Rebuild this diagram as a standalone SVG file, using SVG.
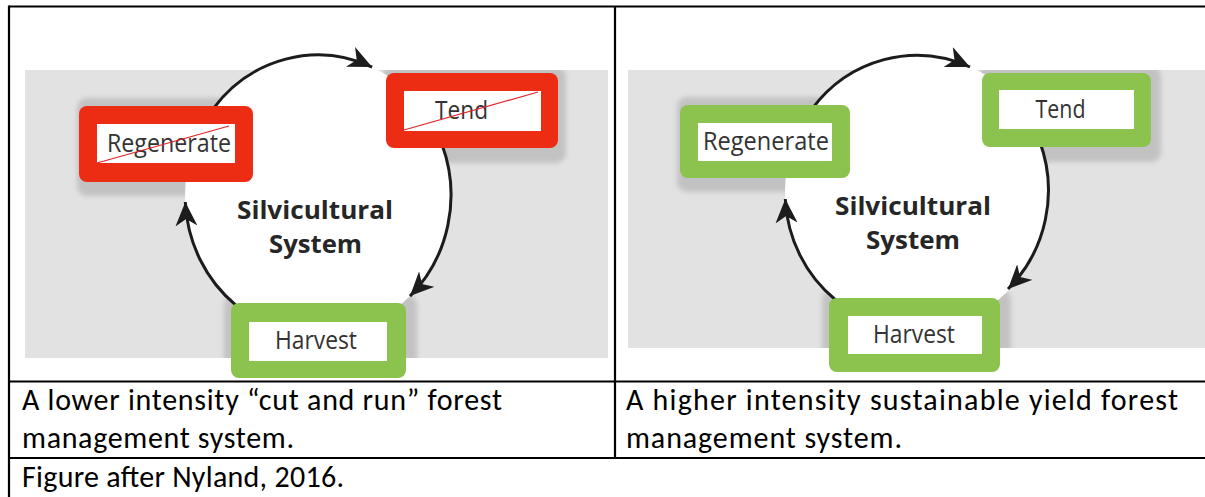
<svg xmlns="http://www.w3.org/2000/svg" width="1205" height="497" viewBox="0 0 1205 497">
<style>
.band{fill:#e2e2e2}
.shadow{fill:#c2c2c2;filter:url(#blur)}
.red{fill:#ec2d13}
.green{fill:#8cc34f}
.inner{fill:#ffffff}
.lbl{font-family:"Open Sans","Noto Sans",sans-serif;font-size:25px;font-weight:500;fill:#333333;text-anchor:middle}
.ctr{font-family:"Open Sans","Noto Sans",sans-serif;font-size:24.5px;font-weight:bold;fill:#262626;text-anchor:middle}
.arc{fill:none;stroke:#1c1c1c;stroke-width:3;marker-end:url(#ah)}
.strike{stroke:#e0242a;stroke-width:1.2}
.grid{stroke:#000;stroke-width:2.2;fill:none}
.cap{font-family:Carlito,Lato,"Liberation Sans",sans-serif;font-size:30px;fill:#000}
</style>
<defs>
<filter id="blur" x="-20%" y="-20%" width="140%" height="140%"><feGaussianBlur stdDeviation="2.5"/></filter>
<marker id="ah" markerUnits="userSpaceOnUse" markerWidth="26" markerHeight="22" refX="24" refY="11" orient="auto" viewBox="0 0 26 22"><path d="M0,0 L24,11 L0,22 L7,11 Z" fill="#1c1c1c"/></marker>
<clipPath id="clipL"><rect x="25" y="70" width="583" height="288"/></clipPath>
<clipPath id="clipR"><rect x="628" y="70" width="577" height="278"/></clipPath>
</defs>
<rect width="1205" height="497" fill="#ffffff"/>

<!-- left panel background -->
<rect class="band" x="25" y="70" width="583" height="288"/>
<g clip-path="url(#clipL)">
<rect class="shadow" x="77" y="98" width="186" height="98" rx="10"/>
<rect class="shadow" x="382" y="66" width="184" height="97" rx="10"/>
<rect class="shadow" x="224" y="295" width="193" height="97" rx="10"/>
</g>
<ellipse cx="318" cy="195" rx="133" ry="140" fill="#ffffff"/>

<!-- right panel background -->
<rect class="band" x="628" y="70" width="577" height="278"/>
<g clip-path="url(#clipR)">
<rect class="shadow" x="677" y="97" width="183" height="95" rx="10"/>
<rect class="shadow" x="978" y="66" width="183" height="96" rx="10"/>
<rect class="shadow" x="822" y="290" width="189" height="96" rx="10"/>
</g>
<ellipse cx="917" cy="192" rx="132" ry="137" fill="#ffffff"/>

<g id="connectors">
<path class="arc" d="M213,109 A133,140 0 0 1 372.1,67.1"/>
<path class="arc" d="M442,144.4 A133,140 0 0 1 410,296.1"/>
<path class="arc" d="M236.1,305.3 A133,140 0 0 1 185.3,202"/>
<path class="arc" d="M812,109 A132,137 0 0 1 970,67"/>
<path class="arc" d="M1039.4,140.6 A132,137 0 0 1 1008,289"/>
<path class="arc" d="M835.7,300 A132,137 0 0 1 785.3,199"/>
</g>

<g id="left-center"><text class="ctr" x="315" y="219" textLength="156" lengthAdjust="spacingAndGlyphs">Silvicultural</text><text class="ctr" x="315.5" y="253" textLength="93" lengthAdjust="spacingAndGlyphs">System</text></g>
<g id="left-regenerate">
<rect class="red" x="79" y="106" width="174" height="76" rx="8"/>
<rect class="inner" x="97" y="124" width="138" height="39"/>
<text class="lbl" x="169" y="152" textLength="124" lengthAdjust="spacingAndGlyphs">Regenerate</text>
<line class="strike" x1="97" y1="163" x2="229" y2="126"/>
</g>
<g id="left-tend">
<rect class="red" x="386" y="73" width="172" height="75" rx="8"/>
<rect class="inner" x="404" y="91" width="137" height="40"/>
<text class="lbl" x="461.5" y="119" textLength="53" lengthAdjust="spacingAndGlyphs">Tend</text>
<line class="strike" x1="404" y1="130" x2="538" y2="92"/>
</g>
<g id="left-harvest">
<rect class="green" x="231" y="303" width="175" height="75" rx="8"/>
<rect class="inner" x="249" y="322" width="138" height="39"/>
<text class="lbl" x="316" y="349" textLength="82" lengthAdjust="spacingAndGlyphs">Harvest</text>
</g>

<g id="right-center"><text class="ctr" x="913" y="215" textLength="156" lengthAdjust="spacingAndGlyphs">Silvicultural</text><text class="ctr" x="913" y="249" textLength="94" lengthAdjust="spacingAndGlyphs">System</text></g>
<g id="right-regenerate">
<rect class="green" x="680" y="105" width="170" height="73" rx="8"/>
<rect class="inner" x="698" y="123" width="134" height="38"/>
<text class="lbl" x="766" y="150" textLength="126" lengthAdjust="spacingAndGlyphs">Regenerate</text>
</g>
<g id="right-tend">
<rect class="green" x="982" y="73" width="169" height="74" rx="8"/>
<rect class="inner" x="999" y="90" width="135" height="39"/>
<text class="lbl" x="1060.5" y="118" textLength="50" lengthAdjust="spacingAndGlyphs">Tend</text>
</g>
<g id="right-harvest">
<rect class="green" x="829" y="298" width="171" height="74" rx="8"/>
<rect class="inner" x="848" y="316" width="134" height="38"/>
<text class="lbl" x="914" y="343" textLength="82" lengthAdjust="spacingAndGlyphs">Harvest</text>
</g>

<!-- table grid -->
<g id="table">
<line class="grid" x1="9" y1="6.5" x2="1205" y2="6.5"/>
<line class="grid" x1="9" y1="5.5" x2="9" y2="497"/>
<line class="grid" x1="615" y1="6.5" x2="615" y2="458"/>
<line class="grid" x1="9" y1="381.5" x2="1205" y2="381.5"/>
<line class="grid" x1="9" y1="458" x2="1205" y2="458"/>
</g>

<g id="captions">
<text class="cap" x="22" y="410" textLength="480">A lower intensity “cut and run” forest</text>
<text class="cap" x="22" y="448" textLength="272">management system.</text>
<text class="cap" x="626" y="410" textLength="552">A higher intensity sustainable yield forest</text>
<text class="cap" x="626" y="448" textLength="276">management system.</text>
<text class="cap" x="22" y="487" textLength="322">Figure after Nyland, 2016.</text>
</g>
</svg>
